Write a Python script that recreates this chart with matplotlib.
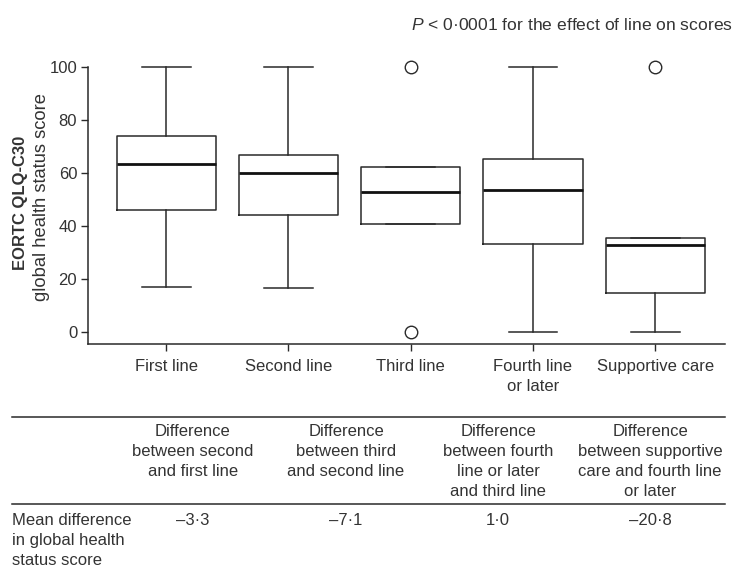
import matplotlib.pyplot as plt
from matplotlib.lines import Line2D

plt.rcParams['font.family'] = ['Liberation Sans', 'DejaVu Sans']
plt.rcParams['mathtext.fontset'] = 'custom'
plt.rcParams['mathtext.it'] = 'Liberation Sans:italic'
plt.rcParams['mathtext.rm'] = 'Liberation Sans'

# box statistics
categories = ['First line', 'Second line', 'Third line', 'Fourth line\nor later', 'Supportive care']
whislo = [17, 16.5, 40.5, 0, 0]
q1 = [46, 44, 40.5, 33, 14.7]
med = [63.3, 59.7, 52.6, 53.5, 32.6]
q3 = [74, 66.5, 62, 65, 35.5]
whishi = [100, 100, 62, 100, 35.5]
fliers = [[], [], [0, 100], [], [100]]

headers = ['Difference\nbetween second\nand first line',
           'Difference\nbetween third\nand second line',
           'Difference\nbetween fourth\nline or later\nand third line',
           'Difference\nbetween supportive\ncare and fourth line\nor later']
mean_diff = ['–3·3', '–7·1', '1·0', '–20·8']

lc = '#2a2a2a'
tc = '#333333'
fs = 12
lsp = 1.42

fig = plt.figure(figsize=(7.35, 5.69), dpi=100)
ax = fig.add_axes([88.3 / 735, 1 - 344 / 569, (725 - 88.3) / 735, (344 - 66.7) / 569])

stats = []
for i in range(len(categories)):
    stats.append(dict(label=categories[i], whislo=whislo[i], q1=q1[i], med=med[i],
                      q3=q3[i], whishi=whishi[i], fliers=fliers[i]))

ax.bxp(stats, positions=range(1, 6), widths=0.81, capwidths=0.4,
       boxprops=dict(color=lc, linewidth=1.1),
       medianprops=dict(color='#111111', linewidth=2),
       whiskerprops=dict(color=lc, linewidth=1.1),
       capprops=dict(color=lc, linewidth=1.1),
       flierprops=dict(marker='o', markerfacecolor='none', markeredgecolor=lc,
                       markersize=9, markeredgewidth=1))
for ln in ax.lines:
    ln.set_clip_on(False)

ax.set_ylim(-4.7, 100)
ax.set_xlim(0.364, 5.57)
ax.set_yticks([0, 20, 40, 60, 80, 100])
ax.spines['top'].set_visible(False)
ax.spines['right'].set_visible(False)
for s in ['left', 'bottom']:
    ax.spines[s].set_color(lc)
    ax.spines[s].set_linewidth(1.1)
ax.tick_params(axis='both', direction='out', length=5, width=1, color=lc,
               labelsize=fs, labelcolor=tc)
ax.tick_params(axis='x', pad=6)
ax.tick_params(axis='y', pad=3)
for lab in ax.get_xticklabels():
    lab.set_linespacing(1.38)

# y-axis label in two lines (bold + normal)
fig.text(21 / 735, 1 - 203 / 569, 'EORTC QLQ-C30', rotation=90, ha='center', va='center',
         fontsize=fs, fontweight='bold', color=tc)
fig.text(42 / 735, 1 - 197 / 569, 'global health status score', rotation=90, ha='center',
         va='center', fontsize=13.2, color=tc)

fig.text(733 / 735, 1 - 25 / 569, r'$\it{P}$ < 0·0001 for the effect of line on scores',
         ha='right', va='center', fontsize=12.6, color=tc)

# table below the plot
for yy in [416.7, 504]:
    fig.add_artist(Line2D([12 / 735, 725 / 735], [1 - yy / 569, 1 - yy / 569],
                          transform=fig.transFigure, color=lc, linewidth=1.1))

col_x = [193, 346, 498, 650]
for x, h, v in zip(col_x, headers, mean_diff):
    fig.text(x / 735, 1 - 424 / 569, h, ha='center', va='top', fontsize=fs,
             color=tc, linespacing=lsp)
    fig.text(x / 735, 1 - 513 / 569, v, ha='center', va='top', fontsize=fs, color=tc)

fig.text(12 / 735, 1 - 513 / 569, 'Mean difference\nin global health\nstatus score',
         ha='left', va='top', fontsize=fs, color=tc, linespacing=lsp)

fig.savefig('out.png', dpi=100)
